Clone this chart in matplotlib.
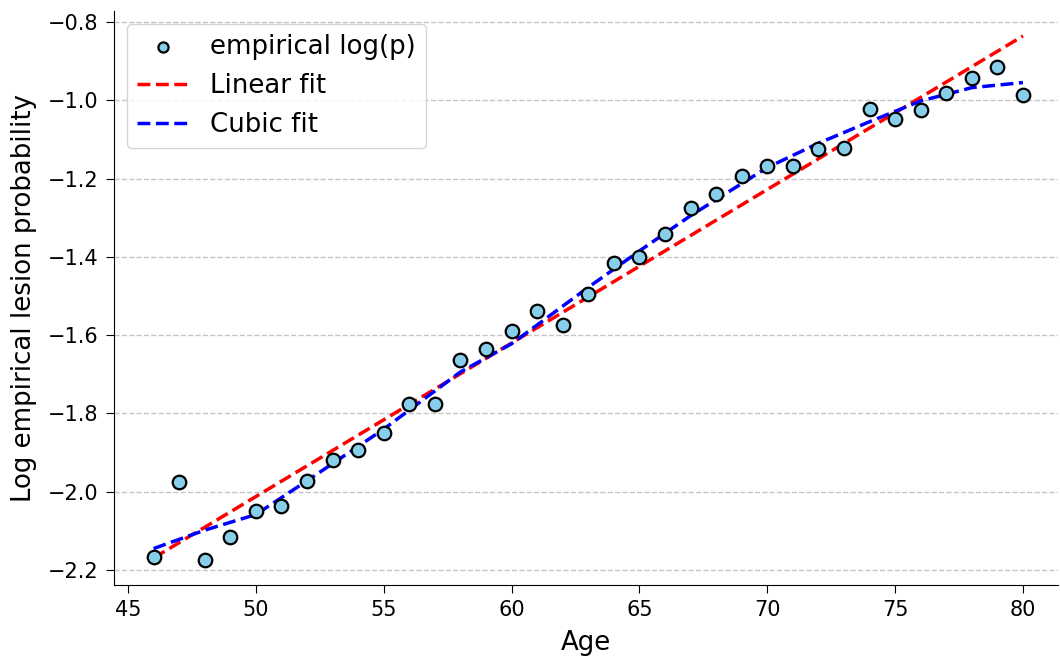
"""
Log empirical lesion probability vs age, with linear and cubic fits.
"""

import matplotlib
matplotlib.use("Agg")
import matplotlib.pyplot as plt

# --- Data --------------------------------------------------------------------
ages = list(range(46, 81))
log_p = [
    -2.167, -1.975, -2.175, -2.116, -2.049, -2.037, -1.973, -1.919, -1.894,
    -1.850, -1.776, -1.776, -1.664, -1.635, -1.589, -1.538, -1.574, -1.495,
    -1.416, -1.400, -1.342, -1.275, -1.239, -1.193, -1.168, -1.168, -1.124,
    -1.122, -1.022, -1.048, -1.025, -0.981, -0.943, -0.915, -0.987,
]

linear_ages = [46, 80]
linear_vals = [-2.169, -0.836]

cubic_ages = [46, 48, 50, 52, 55, 58, 60, 63, 65, 67, 70, 72, 74, 76, 78, 80]
cubic_vals = [-2.145, -2.098, -2.058, -1.972, -1.840, -1.694, -1.622, -1.478,
              -1.385, -1.295, -1.172, -1.110, -1.055, -1.002, -0.968, -0.955]

# --- Plot --------------------------------------------------------------------
fig = plt.figure(figsize=(10.6, 6.57), dpi=100)
ax = fig.add_axes([0.1075, 0.1096, 0.8906, 0.8744])

ax.scatter(ages, log_p, s=95, color="skyblue", edgecolors="black",
           linewidths=1.6, zorder=3, label="empirical log(p)")
ax.plot(linear_ages, linear_vals, "r--", lw=2.5, label="Linear fit")
ax.plot(cubic_ages, cubic_vals, "b--", lw=2.5, label="Cubic fit")

ax.set_xlim(44.45, 81.37)
ax.set_ylim(-2.238, -0.771)
ax.set_yticks([-2.2, -2.0, -1.8, -1.6, -1.4, -1.2, -1.0, -0.8])

ax.set_xlabel("Age", fontsize=18.75, labelpad=7)
ax.set_ylabel("Log empirical lesion probability", fontsize=18.75, labelpad=8)
ax.tick_params(labelsize=15, length=6, pad=5)
ax.grid(axis="y", linestyle="--", color="gray", alpha=0.45, lw=1)
ax.spines["top"].set_visible(False)
ax.spines["right"].set_visible(False)

ax.legend(loc="upper left", fontsize=18.75, markerscale=0.75)

fig.savefig("out.png", dpi=100)
